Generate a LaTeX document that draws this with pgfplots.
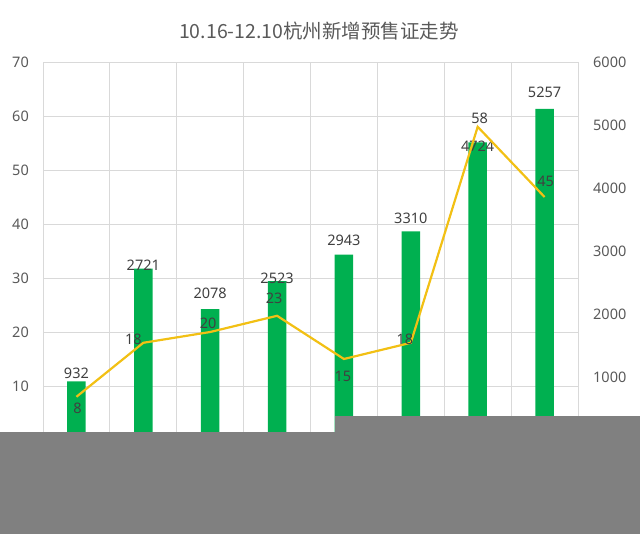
\documentclass[border=0pt]{standalone}
\usepackage{fontspec}
\setmainfont{Noto Sans}
\newfontfamily\cjk{Noto Sans CJK SC}
\usepackage{pgfplots}
\usepackage{pgfplotstable}
\pgfplotsset{compat=1.18}
\definecolor{bargreen}{RGB}{0,176,80}
\definecolor{linegold}{RGB}{242,192,20}
\definecolor{gridgray}{RGB}{217,217,217}
\definecolor{ticktext}{RGB}{89,89,89}
\definecolor{labeltext}{RGB}{64,64,64}
\definecolor{cover}{RGB}{128,128,128}

\pgfplotstableread{
x y dy
0 932 8
1 2721 3
2 2078 16
3 2523 3
4 2943 14
5 3310 13.5
6 4724 -4
7 5257 16
}\bardata

\pgfplotstableread{
x y dx dy
0 8 1 -12
1 18 -10 3
2 20 -2 9
3 23 -3 17
4 15 -1 -17
5 18 -6 3
6 58 2 8
7 45 1 16
}\linedata

\pgfplotsset{
  /pgf/number format/assume math mode=true,
  /pgf/number format/1000 sep={},
  chartbase/.style={
    at={(43pt,94pt)}, anchor=south west, scale only axis,
    width=535pt, height=378pt,
    xmin=-0.5, xmax=7.5,
    axis line style={draw=none},
    major tick length=0pt,
  },
}

\begin{document}
\begin{tikzpicture}[x=1pt,y=1pt]
\path[use as bounding box] (0,0) rectangle (640,534);
% grid and left axis labels
\begin{axis}[
  chartbase,
  ymin=0, ymax=70,
  axis y line*=left, axis x line*=bottom,
  xtick={-0.5,0.5,...,7.5}, xticklabels={},
  ytick={0,10,...,70},
  xmajorgrids, ymajorgrids,
  grid style={gridgray, line width=0.8pt},
  yticklabel style={font=\fontsize{14.5}{17}\selectfont, color=ticktext, anchor=east, inner sep=0pt, xshift=-14pt},
]
\end{axis}
% bars, right axis
\begin{axis}[
  chartbase,
  ymin=0, ymax=6000,
  axis y line*=right, axis x line*=bottom,
  xtick=\empty,
  ytick={0,1000,...,6000},
  yticklabel style={font=\fontsize{14.5}{17}\selectfont, color=ticktext, anchor=west, inner sep=0pt, xshift=15pt},
  ybar, bar width=18.5pt,
  visualization depends on={\thisrow{dy} \as \dy},
  nodes near coords,
  every node near coord/.append style={font=\fontsize{14.5}{17}\selectfont, color=labeltext, anchor=center, inner sep=0pt, yshift=\dy pt},
]
\addplot[fill=bargreen, draw=none] table[x=x, y=y] {\bardata};
\end{axis}
% line, left scale
\begin{axis}[
  chartbase,
  ymin=0, ymax=70,
  axis y line*=left, axis x line*=bottom,
  xtick=\empty, ytick=\empty,
  visualization depends on={\thisrow{dx} \as \dx},
  visualization depends on={\thisrow{dy} \as \dy},
  nodes near coords,
  every node near coord/.append style={font=\fontsize{14.5}{17}\selectfont, color=labeltext, anchor=center, inner sep=0pt, xshift=\dx pt, yshift=\dy pt},
]
\addplot[linegold, line width=2.2pt, no marks] table[x=x, y=y] {\linedata};
\end{axis}
\node[font=\cjk\fontsize{19.5}{23}\selectfont, color=ticktext] at (319,503) {10.16-12.10杭州新增预售证走势};
\fill[cover] (0,0) rectangle (640,102);
\fill[cover] (335,0) rectangle (640,118);
\end{tikzpicture}
\end{document}
